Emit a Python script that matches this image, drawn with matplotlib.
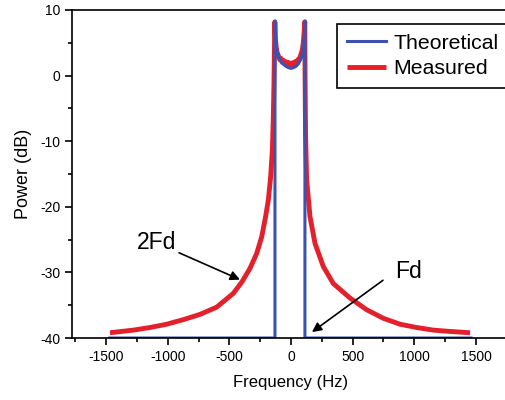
import matplotlib
matplotlib.use("Agg")
import matplotlib.pyplot as plt
from matplotlib.ticker import MultipleLocator

plt.rcParams['font.family'] = ['Liberation Sans', 'DejaVu Sans']
plt.rcParams['axes.unicode_minus'] = False

# Theoretical spectrum
theo_f = [-1470, -130, -130, -126, -120, -110, -100, -80, -60, -40, -20, 0,
          20, 40, 60, 80, 95, 104, 110, 113, 113, 1460]
theo_p = [-40, -40, 8.3, 6.0, 4.5, 3.4, 2.8, 2.1, 1.7, 1.4, 1.2, 1.1,
          1.2, 1.4, 1.8, 2.5, 3.5, 5.0, 6.8, 8.3, -40, -40]

# Measured spectrum
meas_f = [-1468, -1279, -1144, -1008, -873, -738, -603, -468, -400, -333, -278, -238,
          -206, -184, -165, -151, -143, -138, -135, -133, -131,
          -126, -120, -112, -100, -90, -80, -70, -60, -50, -40, -30, -20, -10, 0,
          10, 20, 30, 40, 50, 60, 70, 80, 90, 100, 106, 112,
          114, 118, 127, 154, 195, 262, 343, 478, 614, 749, 884, 1019, 1154, 1290, 1452]
meas_p = [-39.2, -38.8, -38.4, -37.9, -37.2, -36.4, -35.3, -33.2, -31.5, -29.4, -27.1, -24.6,
          -21.5, -19.0, -15.4, -11.3, -6.0, -1.0, 3.0, 6.0, 8.2,
          5.6, 4.3, 3.5, 2.9, 2.4, 2.6, 2.0, 2.3, 1.8, 2.1, 1.6, 2.0, 1.5, 1.9,
          1.4, 2.0, 1.7, 2.2, 2.0, 2.5, 2.6, 3.2, 3.8, 5.0, 6.5, 8.2,
          0.0, -9.0, -15.9, -21.5, -25.6, -29.1, -31.7, -33.9, -35.7, -37.0, -37.9, -38.4, -38.8, -39.0, -39.2]

blue = '#3a52b0'
red = '#e3202b'

fig = plt.figure(figsize=(5.06, 4.0), dpi=100)
ax = fig.add_axes([72/506, 62/400, 438/506, 328/400])

l_meas, = ax.plot(meas_f, meas_p, color=red, lw=3.5, solid_joinstyle='round',
                  solid_capstyle='butt', label='Measured')
l_theo, = ax.plot(theo_f, theo_p, color=blue, lw=2.2, label='Theoretical')

ax.set_xlim(-1776, 1776)
ax.set_ylim(-40, 10)
ax.xaxis.set_major_locator(MultipleLocator(500))
ax.xaxis.set_minor_locator(MultipleLocator(250))
ax.yaxis.set_major_locator(MultipleLocator(10))
ax.yaxis.set_minor_locator(MultipleLocator(5))
ax.tick_params(which='major', direction='out', length=5, width=1.2, labelsize=10)
ax.tick_params(which='minor', direction='out', length=3, width=1.2)
for s in ax.spines.values():
    s.set_linewidth(1.2)

ax.set_xlabel('Frequency (Hz)', fontsize=12, labelpad=8)
ax.set_ylabel('Power (dB)', fontsize=13, labelpad=6)

leg = ax.legend(handles=[l_theo, l_meas], loc='upper left',
                bbox_to_anchor=((337 - 72) / 438, (328 - 14) / 328),
                fontsize=15.3, frameon=True, fancybox=False, edgecolor='black',
                handlelength=1.85, handletextpad=0.35, borderpad=0.45, labelspacing=0.3,
                borderaxespad=0)
leg.get_frame().set_linewidth(1.2)
leg.get_frame().set_alpha(1)

ax.annotate('2Fd', xy=(-414, -31.1), xytext=(-1090, -25.5), fontsize=16.5,
            ha='center', va='center',
            arrowprops=dict(arrowstyle='-|>', color='black', lw=1.2, shrinkA=0, shrinkB=0,
                            mutation_scale=14))
ax.annotate('', xy=(170, -39.1), xytext=(746, -31.2),
            arrowprops=dict(arrowstyle='-|>', color='black', lw=1.2, shrinkA=0, shrinkB=0,
                            mutation_scale=14))
ax.text(949, -29.9, 'Fd', fontsize=16.5, ha='center', va='center')

fig.savefig('out.png', dpi=100)
